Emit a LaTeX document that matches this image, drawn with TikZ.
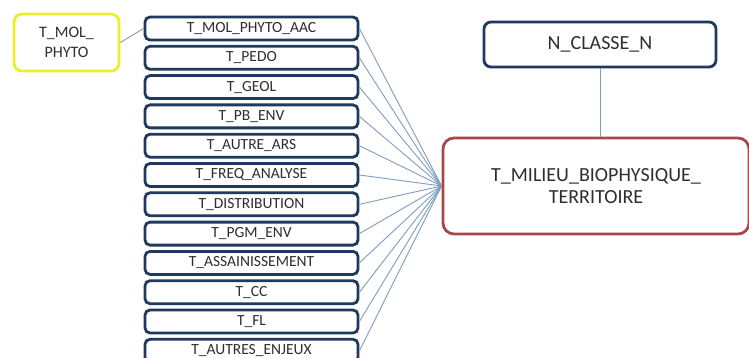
\documentclass[tikz,border=0pt]{standalone}
\usepackage{fontspec}
\setmainfont{Carlito}
\definecolor{navy}{HTML}{1F3A5C}
\definecolor{linkblue}{HTML}{7F9CC0}
\definecolor{hiyellow}{HTML}{EEEE2A}
\definecolor{brick}{HTML}{A8474B}
\definecolor{ink}{HTML}{2E2E2E}
\tikzset{
  tablebox/.style={draw=navy, line width=2.8pt, rounded corners=5pt, fill=white,
    minimum width=213pt, minimum height=23pt, inner sep=0pt, text=ink,
    font=\fontsize{15.5}{18}\selectfont},
  pivotbox/.style={draw=hiyellow, line width=2.8pt, rounded corners=8pt, fill=white,
    minimum width=105pt, minimum height=57pt, inner sep=0pt, text=ink, align=center,
    font=\fontsize{16}{20}\selectfont},
  classbox/.style={draw=navy, line width=2.8pt, rounded corners=7pt, fill=white,
    minimum width=232pt, minimum height=45pt, inner sep=0pt, text=ink,
    font=\fontsize{20}{22}\selectfont},
  mainbox/.style={draw=brick, line width=2.8pt, rounded corners=11pt, fill=white,
    minimum width=306pt, minimum height=96pt, inner sep=0pt, text=ink, align=center,
    font=\fontsize{20}{22}\selectfont},
  link/.style={draw=linkblue, line width=0.9pt},
}
\begin{document}
\begin{tikzpicture}[x=1pt,y=-1pt]
  \clip (0,0) rectangle (749,358);
  \fill[white] (0,0) rectangle (749,358);

  % list of tables, top to bottom
  \foreach \name [count=\i from 0] in {T\_MOL\_PHYTO\_AAC, T\_PEDO, T\_GEOL, T\_PB\_ENV,
      T\_AUTRE\_ARS, T\_FREQ\_ANALYSE, T\_DISTRIBUTION, T\_PGM\_ENV,
      T\_ASSAINISSEMENT, T\_CC, T\_FL, T\_AUTRES\_ENJEUX}
    \node[tablebox] (t\i) at (251.5, 28.5+29.3*\i) {\name};

  \node[pivotbox] (phyto) at (66.5, 42.5) {T\_MOL\_\\PHYTO};
  \node[classbox] (classe) at (600, 44.5) {N\_CLASSE\_N};
  \node[mainbox] (milieu) at (596, 186) {T\_MILIEU\_BIOPHYSIQUE\_\\TERRITOIRE};

  % connectors
  \draw[link] (phyto.east) -- (t0.west);
  \foreach \i in {0,...,11}
    \draw[link] (t\i.east) -- (milieu.west);
  \draw[link] (classe.south) -- (classe.south |- milieu.north);
\end{tikzpicture}
\end{document}
